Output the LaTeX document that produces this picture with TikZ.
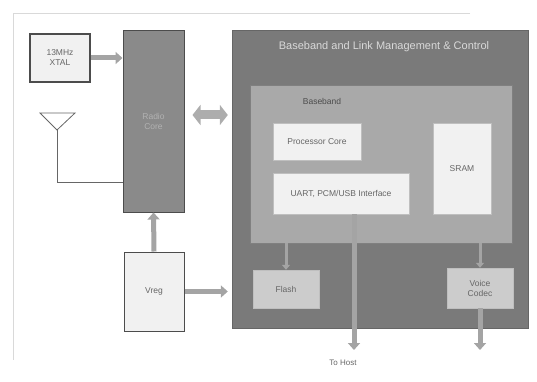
\documentclass[tikz,border=0pt]{standalone}
\usepackage{fontspec}
\setmainfont{Liberation Sans}
\usetikzlibrary{arrows.meta}

\definecolor{darkblock}{HTML}{8A8A8A}
\definecolor{mainblock}{HTML}{7A7A7A}
\definecolor{innerblock}{HTML}{A9A9A9}
\definecolor{lightblock}{HTML}{F1F1F1}
\definecolor{arrowfill}{HTML}{A4A4A4}

\begin{document}
\begin{tikzpicture}[
			x=1pt, y=-1pt,
			block/.style={
				draw=black!70,
				align=center,
				inner sep=0pt,
				font=\fontsize{8.5}{10}\selectfont
			},
			white block/.style={
				block,
				draw=black!25,
				fill=lightblock,
				text=black!60
			},
			fat arrow/.style={
				draw=arrowfill,
				line width=5pt,
				-{Triangle[length=7pt,width=12pt]}
			},
			fat double/.style={
				draw=arrowfill!90,
				line width=9pt,
				{Triangle[length=8pt,width=20pt]}-{Triangle[length=8pt,width=20pt]}
			}
			]
			
			\useasboundingbox (0,0) rectangle (537,382);
			% scan frame
			\draw[black!15] (470,13) -- (13,13) -- (13,360);
			
			\node[block, line width=1.2pt, fill=lightblock, text=black!60, minimum width=60pt, minimum height=48pt] (xtal) at (60,58) {13MHz\\XTAL};
			\node[block, line width=1pt, fill=darkblock, text=black!30, minimum width=61pt, minimum height=181pt] (radio) at (153.5,121.5) {Radio\\Core};
			\node[block, line width=1pt, fill=lightblock, text=black!60, minimum width=60pt, minimum height=79pt] (vreg) at (154,291.5) {Vreg};
			
			\node[block, draw=black!60, fill=mainblock, minimum width=296pt, minimum height=298pt] (main) at (380,179) {};
			\node[text=black!15, font=\fontsize{11}{13}\selectfont] (title) at (384,47) {Baseband and Link Management \& Control};
			\node[block, draw=black!50, fill=innerblock, minimum width=262pt, minimum height=158pt] (bb) at (381,164) {};
			\node[text=black!70, font=\fontsize{8.5}{10}\selectfont] (bblabel) at (322,101) {Baseband};
			
			\node[white block, minimum width=88pt, minimum height=37pt] (proc) at (317,141.5) {Processor Core};
			\node[white block, minimum width=136pt, minimum height=41pt] (uart) at (341,193.5) {UART, PCM/USB Interface};
			\node[white block, minimum width=58pt, minimum height=91pt] (sram) at (462,168.5) {SRAM};
			\node[white block, fill=black!20, minimum width=66pt, minimum height=38pt] (flash) at (286,289) {Flash};
			\node[white block, fill=black!20, minimum width=66pt, minimum height=40pt] (codec) at (480,288) {Voice\\Codec};
			
			\node[text=black!60, font=\fontsize{8}{10}\selectfont] (host) at (343,363) {To Host};
			\coordinate (hostend) at (354,350);
			\coordinate (codecend) at (480,350);
			
			% antenna
			\coordinate (ant) at (57,130);
			\coordinate (antfoot) at (57,182);
			\draw[black!60, line width=0.8pt] (40,113) -- (75,113) -- (ant) -- cycle;
			\draw[black!60, line width=0.8pt] (ant) -- (antfoot) -- (radio.west |- antfoot);
			
			% block arrows
			\draw[fat arrow] (xtal.east) -- (radio.west |- xtal.east);
			\draw[fat double] ([xshift=8pt]radio.east |- 0,115) -- ([xshift=-4pt]main.west |- 0,115);
			\draw[fat arrow] (vreg.north) -- (radio.south);
			\draw[fat arrow] (vreg.east) -- ([xshift=-4pt]main.west |- vreg.east);
			\draw[fat arrow, line width=3pt, -{Triangle[length=5pt,width=8pt]}] (flash.north |- bb.south) -- (flash.north);
			\draw[fat arrow, line width=3pt, -{Triangle[length=5pt,width=8pt]}] (codec.north |- bb.south) -- (codec.north);
			\draw[fat arrow] ([xshift=13pt]uart.south) -- (hostend);
			\draw[fat arrow] (codec.south) -- (codecend);
			
		\end{tikzpicture}
\end{document}
